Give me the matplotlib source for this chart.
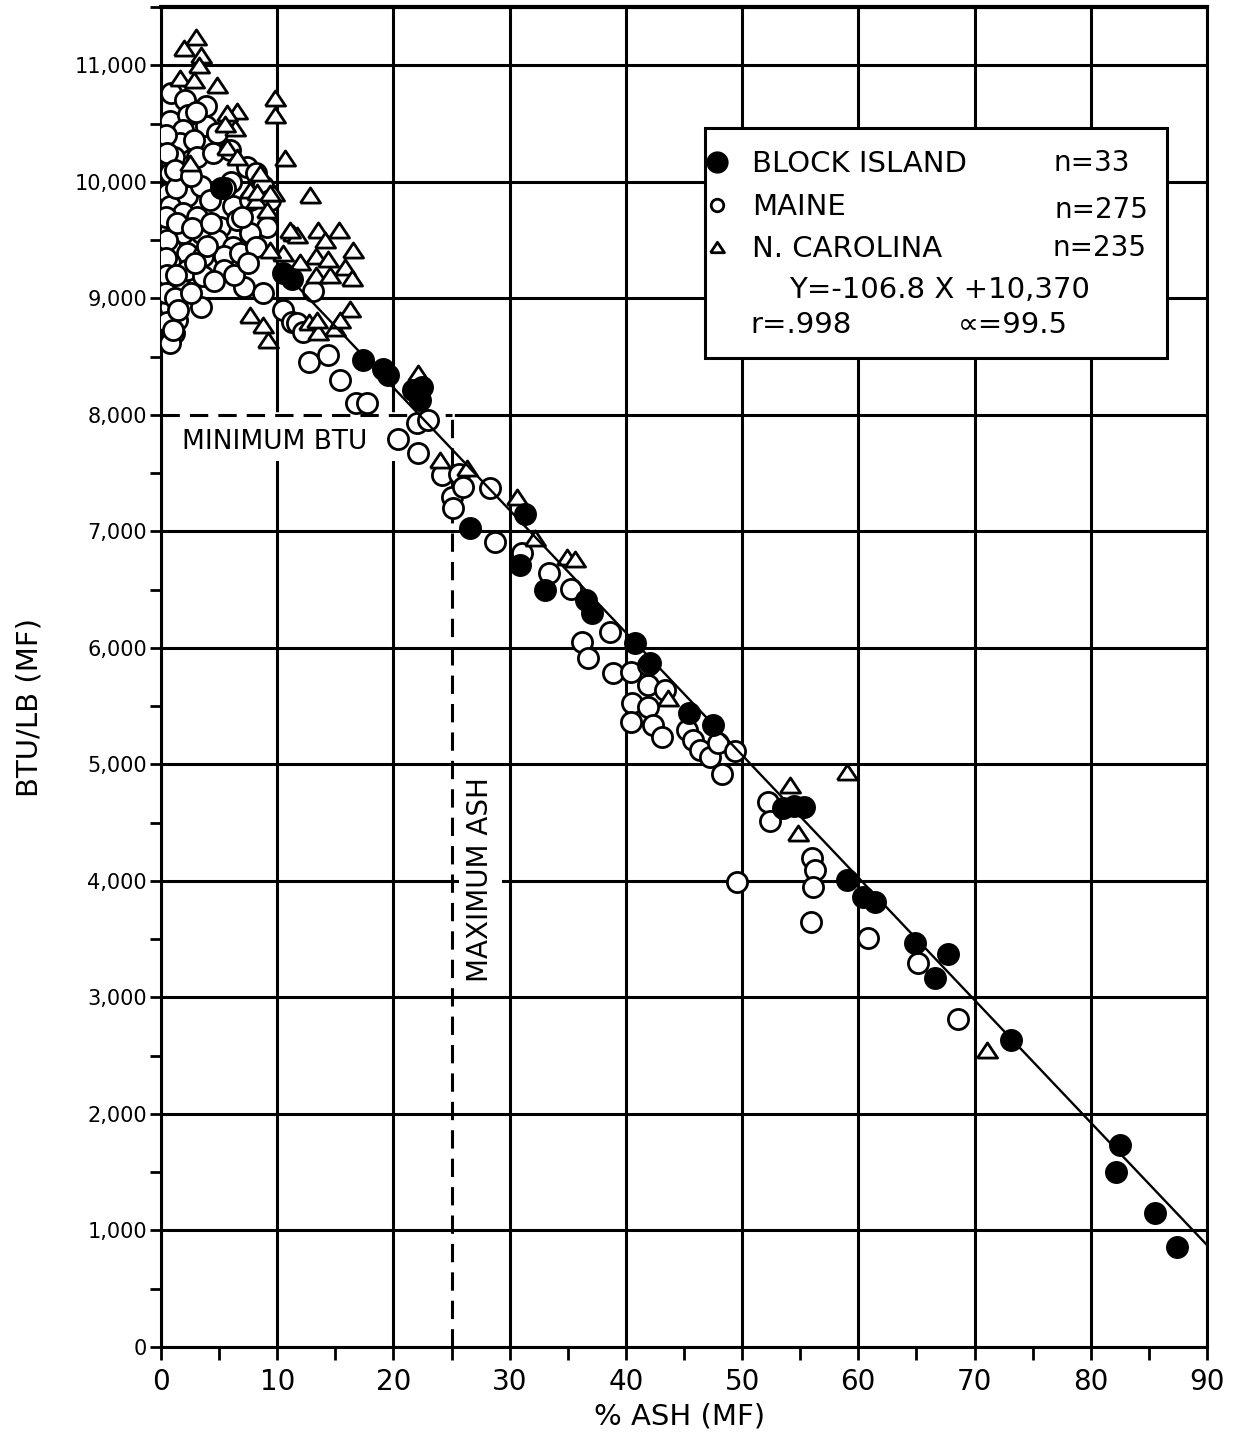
import matplotlib.pyplot as plt
from matplotlib.lines import Line2D
from matplotlib.patches import Rectangle
from matplotlib.ticker import MultipleLocator, FuncFormatter

# % ash (MF) vs BTU/lb (MF)
block_island = [
    (5.2, 9950), (10.5, 9220), (11.3, 9170), (17.4, 8470), (19.1, 8390),
    (19.5, 8340), (21.7, 8215), (22.5, 8240), (22.3, 8130), (26.6, 7030),
    (31.3, 7145), (30.9, 6710), (33.0, 6500), (36.6, 6410), (37.1, 6300),
    (40.8, 6040), (42.1, 5870), (45.4, 5440), (47.5, 5340), (53.5, 4630),
    (54.5, 4640), (55.3, 4635), (59.0, 4010), (60.4, 3865), (61.4, 3820),
    (64.9, 3470), (67.7, 3370), (66.6, 3170), (73.1, 2635), (82.5, 1735),
    (82.2, 1500), (85.5, 1150), (87.4, 860),
]

maine = [
    # dense cluster at low ash
    (0.9, 10760), (2.1, 10700), (3.9, 10650), (0.8, 10520), (2.35, 10575),
    (3.9, 10475), (1.9, 10445), (1.6, 10330), (2.8, 10360), (4.8, 10420),
    (3.1, 10215), (1.1, 10215), (4.5, 10245), (5.9, 10275), (7.4, 10130),
    (8.2, 10075), (0.8, 10075), (1.9, 10015), (0.6, 9905), (2.2, 9875),
    (3.4, 9960), (4.2, 9845), (6.2, 9790), (7.7, 9845), (8.8, 9960),
    (9.4, 9845), (9.1, 9615), (0.8, 9790), (1.9, 9730), (3.1, 9700),
    (5.1, 9615), (6.5, 9675), (7.7, 9560), (0.8, 9590), (1.9, 9560),
    (3.4, 9560), (4.8, 9500), (6.2, 9445), (0.8, 9445), (2.2, 9390),
    (3.6, 9360), (5.4, 9360), (6.8, 9390), (8.2, 9445), (0.8, 9300),
    (2.2, 9245), (3.6, 9190), (5.4, 9245), (7.1, 9100), (8.8, 9045),
    (0.8, 9130), (1.9, 9075), (3.4, 8930), (0.8, 8930), (1.35, 8815),
    (1.1, 8700), (0.8, 8615), (0.4, 10400), (0.5, 10250), (0.4, 9700),
    (0.5, 9500), (0.4, 9350), (0.5, 9200), (0.4, 9050), (1.2, 9000),
    (0.5, 8800), (1.5, 8900), (1.3, 9200), (1.4, 9650), (1.3, 9950),
    (1.2, 10100), (2.6, 10050), (2.7, 9600), (2.9, 9300), (2.6, 9050),
    (4.3, 9650), (4.0, 9450), (4.6, 9150), (6.0, 10000), (7.0, 9700),
    (5.5, 9950), (6.3, 9200), (7.5, 9300), (1.0, 8730), (3.0, 10600),
    # trail along the regression line
    (10.5, 8900), (11.3, 8800), (11.7, 8790), (12.2, 8710), (13.1, 9060),
    (12.7, 8450), (14.4, 8515), (15.4, 8300), (16.8, 8100), (17.7, 8100),
    (20.4, 7790), (22.0, 7930), (23.0, 7960), (22.1, 7670), (24.2, 7485),
    (25.6, 7490), (25.0, 7296), (25.1, 7200), (26.0, 7380), (28.3, 7375),
    (28.7, 6905), (31.1, 6815), (33.4, 6645), (35.3, 6505), (36.2, 6052),
    (36.7, 5914), (38.6, 6137), (38.9, 5785), (40.4, 5794), (40.5, 5528),
    (40.4, 5365), (41.9, 5682), (41.9, 5494), (42.3, 5339), (43.1, 5236),
    (43.4, 5640), (41.9, 5854), (45.3, 5296), (45.8, 5210), (46.4, 5124),
    (47.2, 5064), (48.3, 4920), (47.9, 5185), (49.4, 5115), (52.2, 4675),
    (52.4, 4515), (56.0, 4197), (56.3, 4094), (56.1, 3948), (49.6, 3991),
    (55.9, 3648), (60.8, 3511), (65.1, 3296), (68.6, 2815),
]

n_carolina = [
    (3.0, 11240), (2.0, 11150), (3.4, 11090), (3.3, 11000), (1.6, 10895),
    (2.8, 10875), (4.8, 10830), (9.8, 10720), (9.8, 10575), (6.5, 10610),
    (6.4, 10460), (5.65, 10590), (5.5, 10500), (10.7, 10205), (5.65, 10300),
    (6.5, 10215), (2.5, 10160), (8.5, 10075), (7.7, 9930), (9.7, 9905),
    (8.2, 9845), (12.8, 9890), (11.4, 9560), (11.7, 9545), (13.5, 9590),
    (15.3, 9590), (14.1, 9500), (16.5, 9416), (10.5, 9390), (12.0, 9310),
    (13.3, 9360), (14.4, 9340), (15.8, 9265), (13.3, 9200), (14.5, 9200),
    (16.4, 9175), (16.3, 8910), (7.7, 8858), (8.8, 8773), (9.2, 8644),
    (8.3, 9914), (9.4, 9906), (9.1, 9760), (9.4, 9416), (11.1, 9588),
    (12.7, 8800), (13.5, 8712), (15.0, 8747), (13.4, 8815), (15.4, 8815),
    (22.1, 8361), (24.0, 7614), (26.3, 7540), (30.6, 7296), (32.2, 6944),
    (34.9, 6781), (35.6, 6760), (43.6, 5571), (59.0, 4936), (54.1, 4824),
    (54.8, 4412), (71.1, 2549),
]

# regression line as drawn on the original
fit_x = [10, 90]
fit_y = [9285, 875]

min_btu = 8000
max_ash = 25

series_names = ['BLOCK ISLAND', 'MAINE', 'N. CAROLINA']
series_n = ['n=33', 'n=275', 'n=235']
equation = 'Y=-106.8 X +10,370'
r_text = 'r=.998'
alpha_text = '\u221d=99.5'

tri = [(-1, -0.75), (1, -0.75), (0, 0.75), (-1, -0.75)]

fig = plt.figure(figsize=(12.51, 14.42), dpi=100)
ax = fig.add_axes([0.1287, 0.0659, 0.8361, 0.9292])

mx, my = zip(*maine)
ax.plot(mx, my, 'o', ms=14.5, mfc='white', mec='black', mew=2.0, zorder=3)
nx, ny = zip(*n_carolina)
ax.plot(nx, ny, marker=tri, ls='none', ms=14.5, mfc='white', mec='black', mew=2.0, zorder=3.1)
bx, by = zip(*block_island)
ax.plot(bx, by, 'o', ms=15.5, mfc='black', mec='black', zorder=3.2)

ax.plot(fit_x, fit_y, color='black', lw=1.7, zorder=3.3)

# minimum btu / maximum ash limits
ax.plot([0, max_ash], [min_btu, min_btu], color='white', lw=4, zorder=1.6)
ax.plot([0, max_ash], [min_btu, min_btu], color='black', lw=2.2,
        ls=(0, (6, 3.3)), zorder=1.7)
ax.plot([max_ash, max_ash], [0, min_btu], color='black', lw=2.2,
        ls=(0, (6, 3.3)), zorder=1.7)
ax.add_patch(Rectangle((0.3, 7600), 21, 380, fc='white', ec='none', zorder=1.5))
ax.add_patch(Rectangle((25.6, 3080), 3.7, 1870, fc='white', ec='none', zorder=1.5))
ax.text(9.8, 7770, 'MINIMUM BTU', fontsize=19, ha='center', va='center', zorder=2)
ax.text(27.45, 4010, 'MAXIMUM ASH', fontsize=20, rotation=90,
        ha='center', va='center', zorder=2)

# axes, grid, ticks
ax.set_xlim(0, 90)
ax.set_ylim(0, 11500)
ax.xaxis.set_major_locator(MultipleLocator(10))
ax.xaxis.set_minor_locator(MultipleLocator(5))
ax.yaxis.set_major_locator(MultipleLocator(1000))
ax.yaxis.set_minor_locator(MultipleLocator(500))
ax.yaxis.set_major_formatter(FuncFormatter(lambda v, p: f'{int(v):,}'))
ax.grid(which='major', color='black', lw=2.2)
ax.set_axisbelow(True)
ax.tick_params(which='both', direction='out', length=8, width=2, color='black')
ax.tick_params(axis='y', pad=2, labelsize=15)
ax.tick_params(axis='x', which='both', length=9)
ax.tick_params(axis='x', pad=6, labelsize=20)
for s in ax.spines.values():
    s.set_linewidth(2.2)
ax.spines['top'].set_linewidth(3)

ax.set_xlabel('% ASH (MF)', fontsize=21)
ax.set_ylabel('BTU/LB (MF)', fontsize=21)
ax.xaxis.set_label_coords(0.496, -0.0418)
ax.yaxis.set_label_coords(-0.112, 0.4776)

# legend box
ax.add_patch(Rectangle((0.5201, 0.7381), 0.4417, 0.1716, transform=ax.transAxes,
                       fc='white', ec='black', lw=2.2, zorder=5))
handles = [
    Line2D([], [], marker='o', ls='none', ms=15, mfc='black', mec='black'),
    Line2D([], [], marker='o', ls='none', ms=9, mfc='white', mec='black', mew=2),
    Line2D([], [], marker=tri, ls='none', ms=10, mfc='white', mec='black', mew=2),
]
leg = ax.legend(handles, series_names, loc='upper left', bbox_to_anchor=(0.523, 0.893),
                frameon=False, fontsize=21, handlelength=0.6, handletextpad=0.9,
                labelspacing=0.49, borderpad=0, borderaxespad=0)
leg.set_zorder(6)
for txt, xr, yr in zip(series_n, [0.9264, 0.9436, 0.9426], [0.8836, 0.8485, 0.8201]):
    ax.text(xr, yr, txt, transform=ax.transAxes, fontsize=20, ha='right', va='center', zorder=6)
ax.text(0.7447, 0.7888, equation, transform=ax.transAxes, fontsize=21,
        ha='center', va='center', zorder=6)
ax.text(0.5631, 0.7627, r_text, transform=ax.transAxes, fontsize=21,
        ha='left', va='center', zorder=6)
ax.text(0.7620, 0.7627, alpha_text, transform=ax.transAxes, fontsize=21,
        ha='left', va='center', zorder=6)

plt.savefig('out.png', dpi=100)
